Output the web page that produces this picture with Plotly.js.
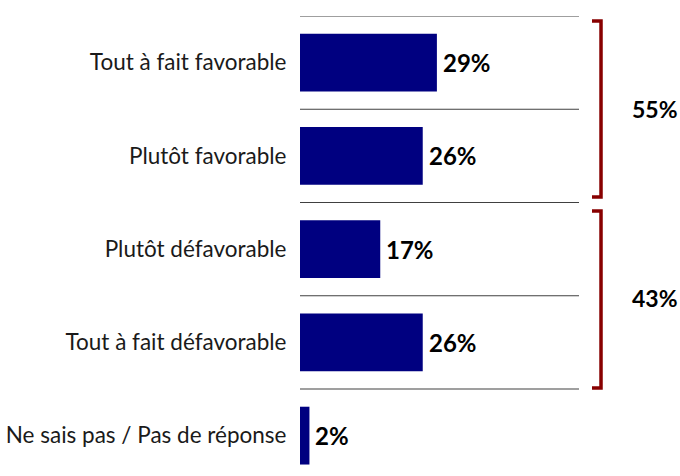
<!DOCTYPE html>
<html>
<head>
<meta charset="utf-8">
<script src="https://cdn.plot.ly/plotly-3.0.1.min.js"></script>
<style>html,body{margin:0;padding:0;background:#fff}#chart{width:680px;height:476px}</style>
</head>
<body>
<div id="chart"></div>
<script>
var categories = ["Tout à fait favorable", "Plutôt favorable", "Plutôt défavorable", "Tout à fait défavorable", "Ne sais pas / Pas de réponse"];
var values = [29, 26, 17, 26, 2];
var groupFavorable = [0, 1];
var groupDefavorable = [2, 3];

var idx = categories.map(function(_, i){ return i; });
function sumOf(g){ return g.reduce(function(s, i){ return s + values[i]; }, 0); }

var trace = {
  type: 'bar',
  orientation: 'h',
  x: values,
  y: idx,
  width: 0.62,
  marker: {color: '#000080'},
  hoverinfo: 'none'
};

var shapes = [];
[-0.5, 0.5, 1.5, 2.5, 3.5].forEach(function(yv){
  shapes.push({type: 'line', xref: 'paper', yref: 'y', x0: 0, x1: 1, y0: yv, y1: yv,
    line: {color: '#404040', width: 1.2}});
});
function bracket(y0, y1){
  var xa = 1.0466, xb = 1.0789;
  return {type: 'path', xref: 'paper', yref: 'y',
    path: 'M ' + xa + ',' + y0 + ' L ' + xb + ',' + y0 + ' L ' + xb + ',' + y1 + ' L ' + xa + ',' + y1,
    line: {color: '#880000', width: 3.5}};
}
shapes.push(bracket(-0.446, 1.441));
shapes.push(bracket(1.591, 3.489));

var annotations = values.map(function(v, i){
  return {xref: 'x', yref: 'y', x: v, y: i, text: '<b>' + v + '%</b>', showarrow: false,
    xanchor: 'left', yanchor: 'middle', xshift: 4,
    font: {family: 'Lato, sans-serif', size: 24, color: '#000'}};
});
annotations.push({xref: 'paper', yref: 'y', x: 1.272, y: 0.5, text: '<b>' + sumOf(groupFavorable) + '%</b>', showarrow: false,
   xanchor: 'center', yanchor: 'middle', font: {family: 'Lato, sans-serif', size: 23, color: '#000'}});
annotations.push({xref: 'paper', yref: 'y', x: 1.272, y: 2.52, text: '<b>' + sumOf(groupDefavorable) + '%</b>', showarrow: false,
   xanchor: 'center', yanchor: 'middle', font: {family: 'Lato, sans-serif', size: 23, color: '#000'}});

var layout = {
  width: 680, height: 476,
  margin: {l: 300, r: 101, t: 16, b: 0, pad: 0},
  paper_bgcolor: '#fff', plot_bgcolor: '#fff',
  showlegend: false,
  xaxis: {range: [0, 59.1], showgrid: false, zeroline: false, showline: false, showticklabels: false, ticks: '', fixedrange: true},
  yaxis: {range: [4.433, -0.5], tickvals: idx, ticktext: categories, showgrid: false, zeroline: false, showline: false,
    ticks: 'outside', ticklen: 8, tickcolor: 'rgba(0,0,0,0)',
    tickfont: {family: 'Lato, sans-serif', size: 22.5, color: '#1a1a1a'}, fixedrange: true},
  shapes: shapes,
  annotations: annotations
};

Plotly.newPlot('chart', [trace], layout, {displayModeBar: false, staticPlot: true});
</script>
</body>
</html>
